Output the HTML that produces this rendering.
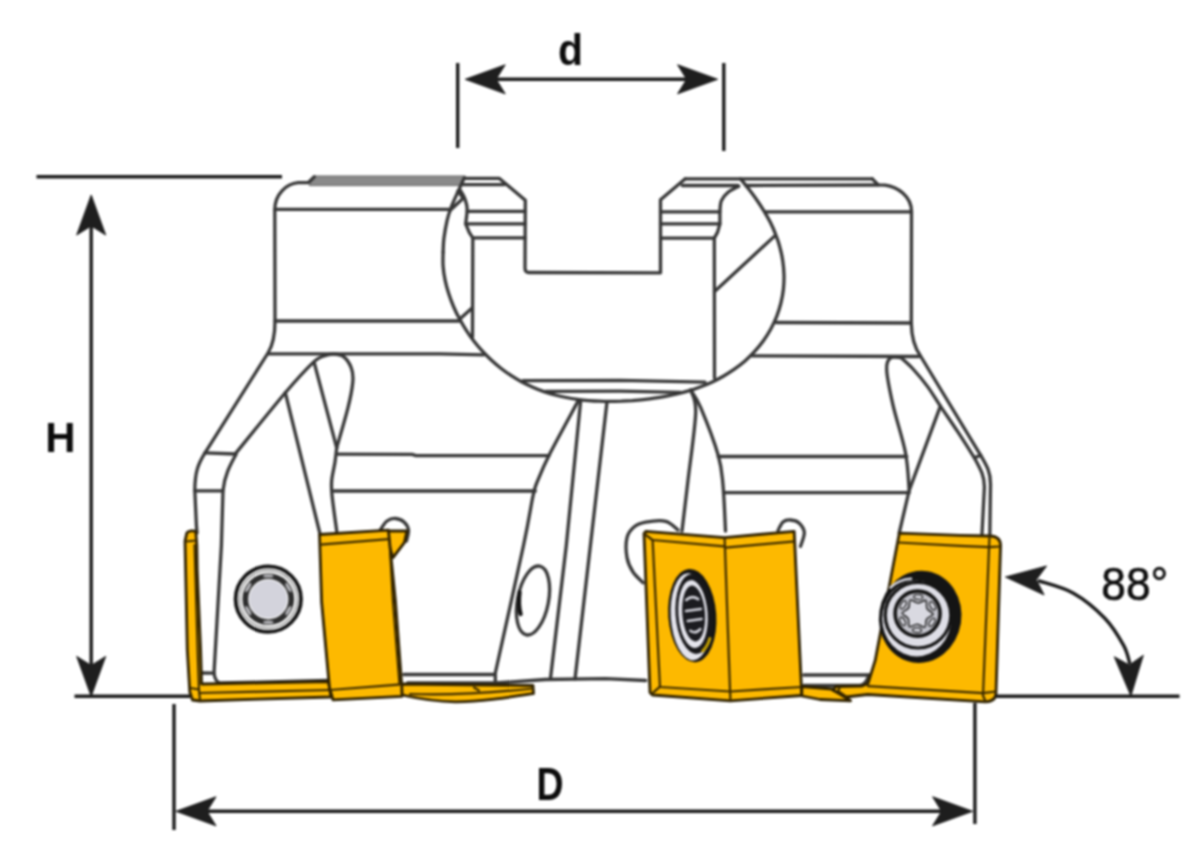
<!DOCTYPE html>
<html lang="en">
<head>
<meta charset="utf-8">
<title>Face mill dimensions</title>
<style>
html,body{margin:0;padding:0;background:#fff;}
body{width:1198px;height:866px;overflow:hidden;}
svg{display:block;}
.b{fill:none;stroke:#363636;stroke-width:3.3;stroke-linecap:round;stroke-linejoin:round;}
.y path{fill:#fdb900;stroke:#2e2100;stroke-width:2.8;stroke-linejoin:round;stroke-linecap:round;}
.y path.n{fill:none;stroke-width:2.2;stroke:#3a2a00;}
.d{fill:none;stroke:#1a1a1a;stroke-width:3.4;stroke-linecap:butt;}
.a path{fill:#1e1e1e;stroke:#1e1e1e;stroke-width:1;stroke-linejoin:round;}
.t{font-family:"Liberation Sans",sans-serif;font-weight:bold;font-size:43px;fill:#0c0c0c;}
.r{font-family:"Liberation Sans",sans-serif;font-weight:normal;font-size:46px;fill:#0c0c0c;stroke:#0c0c0c;stroke-width:0.6px;stroke-linejoin:round;}
</style>
</head>
<body>
<svg width="1198" height="866" viewBox="0 0 1198 866">
<defs><filter id="bl" color-interpolation-filters="sRGB" x="0" y="0" width="1198" height="866" filterUnits="userSpaceOnUse"><feGaussianBlur stdDeviation="0.8"/></filter></defs>
<rect width="1198" height="866" fill="#fff"/>
<g filter="url(#bl)">
<rect width="1198" height="866" fill="#fff"/>
<g class="b">
<path d="M314.5,176 L465.5,176 L461.5,185.6 L309.5,185.6Z" fill="#8a8a8a" stroke="#666" stroke-width="1"/>
<path d="M464.2,178 C463.2,180.2 460.4,186.3 458.2,191.2 C456,196.1 453,202.3 451.2,207.2 C449.4,212 448.3,215.1 447.1,220.3 C445.9,225.5 444.6,233.1 443.9,238.4 C443.2,243.7 443.2,249.8 443.1,252.1"/>
<path d="M443.1,252.1 C443.1,254.4 442.7,261.5 443.1,266.2 C443.4,270.8 444.1,275.5 445.1,280.1 C446,284.7 447.3,289.2 448.7,293.6 C450.1,298 451.7,302.3 453.5,306.5 C455.3,310.8 457.3,314.9 459.5,318.8 C461.6,322.8 463.9,326.7 466.3,330.4 C468.7,334.2 471.3,337.8 474,341.2 C476.7,344.7 479.5,348 482.4,351.2 C485.3,354.4 488.4,357.4 491.5,360.3 C494.6,363.2 497.8,365.9 501.2,368.5 C504.5,371.1 507.9,373.5 511.3,375.7 C514.8,378 518.3,380.1 521.9,382 C525.5,383.9 529.2,385.6 532.8,387.2 C536.5,388.8 540.2,390.3 543.9,391.6 C547.6,392.8 551.4,394 555.1,395 C558.8,396 562.6,396.8 566.3,397.5 C570.1,398.3 573.8,398.9 577.5,399.4 C581.2,399.9 584.9,400.3 588.6,400.6 C592.3,400.9 595.9,401.1 599.6,401.2 C603.2,401.4 606.8,401.4 610.5,401.4 C614.1,401.4 617.7,401.3 621.3,401.2 C625,401 628.6,400.8 632.2,400.6 C635.9,400.3 639.5,400 643.2,399.6 C646.9,399.2 650.5,398.8 654.3,398.2 C658,397.7 661.7,397.1 665.5,396.4 C669.3,395.7 673.1,394.9 676.9,394 C680.7,393.1 684.6,392.1 688.5,390.9 C692.4,389.8 696.3,388.5 700.1,387 C704,385.6 707.9,384 711.8,382.2 C715.7,380.4 719.5,378.4 723.3,376.2 C727.1,374.1 730.8,371.7 734.4,369.2 C738,366.6 741.6,363.8 745,360.9 C748.4,357.9 751.7,354.7 754.7,351.4 C757.8,348 760.7,344.4 763.4,340.7 C766.1,337 768.6,333 770.8,329 C773,324.9 775,320.7 776.7,316.3 C778.4,312 779.8,307.5 780.9,303 C782,298.5 782.9,293.8 783.4,289.2 C783.9,284.6 784.1,279.9 784,275.2 C783.9,270.6 783.5,265.9 782.8,261.3 C782.2,256.7 781.2,252.1 780,247.7 C778.9,243.2 777.4,238.8 775.7,234.6 C774.1,230.3 772.2,226.1 770.2,222.1 C768.1,218 765.9,214.1 763.6,210.3 C761.3,206.5 758.8,202.8 756.3,199.2 C753.8,195.6 751.1,192.1 748.5,188.7 C745.8,185.3 741.7,180.3 740.4,178.7"/>
<path d="M314.3,176.8 L308.5,182.5 L298.2,182.7 C286,184 275,194 274.8,209.4 L275,321 C275,334 273,345 268,353 L205,452.8"/>
<path d="M275,209.4 L449.5,209.4"/>
<path d="M275,321 L459,321"/>
<path d="M267.8,353.8 L440,353.8 L483.6,354.8"/>
<path d="M872.3,178.8 L878.3,184.8 L885,185.1 C897,186.5 911.5,196 911.5,211.5 L911.3,323 C911.5,336 914,347 920.5,356 L980.7,455.3 C987,466 990.5,472 990.5,484 L989.8,536"/>
<path d="M765.7,211.8 L911.5,211.8"/>
<path d="M776.3,322.5 L911.3,323"/>
<path d="M752.2,355.9 L919,356.5"/>
<path d="M685.3,178.8 L740,178.8 L872.3,178.8"/>
<path d="M682.3,185.5 L738,185.5"/>
<path d="M746,185.5 L878.3,185"/>
<path d="M464.2,178.4 L499.4,178.4 L525.3,200.2 L525,268 Q525,272.5 529,272.5 L660.5,272.8 L660.5,199.8 L685.3,178.8"/>
<path d="M462,184.6 L504.4,184.6"/>
<path d="M467.2,211.3 L525.2,211.3"/>
<path d="M465.7,223.8 L525.2,223.8"/>
<path d="M472.8,237.9 L525.2,237.9"/>
<path d="M460.2,190.2 C460.9,191.4 463.1,194.7 464.2,197.2 C465.3,199.7 466.2,202.8 466.7,205.2 C467.2,207.5 467.1,210.3 467.2,211.3 L465.7,223.8 L469.2,232.4 L472.8,237.9 L472.5,337"/>
<path d="M458,191 L463.2,198.2 L450.2,210.3"/>
<path d="M459.3,319.5 L471.8,308.3"/>
<path d="M660.5,211.8 L719.9,211.8"/>
<path d="M660.5,223.9 L719.9,223.9"/>
<path d="M660.5,238.1 L713.9,238.1"/>
<path d="M738.7,186.3 C736.9,187.3 731,189.9 728.1,192.3 C725.2,194.7 722.8,197.3 721.4,200.6 C720,203.8 720.1,209.9 719.9,211.8 L719.9,223.9 L717.6,232.1 L714.3,238.1 L714.5,378.1"/>
<path d="M714.6,291.5 L774,236.6"/>
<path d="M523,380.6 L620,380.4 L705,382.2"/>
<path d="M545.5,391.3 L620,391.2 L680.5,392.4"/>
<path d="M205,452.8 C198,464 195,472 194.8,490 L196.4,525.5 L197,533"/>
<path d="M205,452.8 L235.2,454"/>
<path d="M235.2,454 C243.5,443.8 272.3,407.9 285.3,392.7 C298.3,377.5 306.6,368.7 313,362.6 C319.4,356.5 320.6,357.4 324,356 C327.4,354.6 330.2,353.9 333.5,354 C336.8,354.1 340.5,354.3 343.5,356.6 C346.5,358.9 349.8,363.8 351.3,368 C352.9,372.2 353.4,375.4 352.8,382 C352.2,388.6 350.7,396.7 348,407.7 C345.3,418.7 338.6,441.1 336.7,447.8"/>
<path d="M236,454.5 C229.5,466 224.5,476 223,490.4 L221.4,545.5 L214,673"/>
<path d="M194.8,490.8 L222.9,490.8"/>
<path d="M285.3,392.7 L320.4,535.5"/>
<path d="M314.2,362.6 L336.7,447.8"/>
<path d="M336.7,447.8 C336.4,450.2 335.8,456.6 335,462 C334.2,467.4 332.2,474.9 331.7,480.4 C331.2,485.9 331.2,486.6 332,495 C332.8,503.4 335.9,525 336.7,531"/>
<path d="M336.7,454.2 L412,454.4 L416,455.6 L549,455.6"/>
<path d="M334,491 L535.3,491"/>
<path d="M577.9,401.4 C573.3,410 557,439.6 550.3,452.8 C543.6,466 540.7,473.2 537.8,480.4 C534.9,487.6 535.4,485.1 533,496 C530.6,506.9 529.8,516 523.5,545.5 C517.2,575 500,651.8 495.3,673"/>
<path d="M580.6,401.4 L566.3,545.5 L550.4,679"/>
<path d="M606.9,402.7 L590.4,545.5 L575,679"/>
<path d="M690.7,390 C691.5,393.8 696.2,397.6 695.7,412.7 C695.2,427.8 690.3,460.7 688,480.4 C685.7,500.1 683,522.6 682,531"/>
<path d="M690.7,390 C692.4,392.9 696.1,396.8 700.7,407.7 C705.3,418.6 714.5,442.4 718.2,455.3 C721.9,468.2 721.8,472.4 723,485 C724.2,497.6 725.1,523.3 725.5,531"/>
<path d="M718.2,456.5 L906.7,456.5"/>
<path d="M723.5,492.7 L909.2,492.7"/>
<path d="M900.5,357.6 C898.8,357.7 892.7,355.9 890.4,358 C888.1,360.1 886.3,362.1 886.7,370 C887.1,377.9 889.9,391.4 893,405.2 C896.1,419 902.8,438.6 905.5,452.8 C908.2,467 908.6,484.1 909.2,490.4"/>
<path d="M940.4,406.1 L909.2,490.4 L899.2,533"/>
<path d="M900.6,357.3 C902.6,359.2 908.1,363.6 912.6,368.5 C917.1,373.4 923,380.3 927.6,386.6 C932.2,392.9 935.4,398.6 940.4,406.1 C945.4,413.6 952,423.1 957.7,431.7 C963.4,440.3 971.6,453.4 974.4,457.8 C981,470 984.4,476 984.4,487 L982,534"/>
<path d="M974.4,457.8 L980.7,455.3"/>
<path d="M201.4,673 L214,673.2 C214.5,678 216.5,682 220,683 L328,680.5"/>
<path d="M403.8,674.5 L495.3,674.5 L495.3,683"/>
<path d="M407.6,683 L495.3,683 L545.4,679.5 L605.6,678.6 L645.7,680.5"/>
<path d="M803.8,675 L869,675"/>
<path d="M803.8,685.5 L860,685.5 C865,685 867,681 869,675"/>
<ellipse cx="533" cy="600.5" rx="15.5" ry="35" transform="rotate(11 533 600.5)"/>
<path d="M519.6,592 C518.6,600 518.8,608 520.6,614" stroke="#111" stroke-width="4.2"/>
</g>
<g class="b">
<path d="M380.5,529.5 C381.6,528.1 384.5,522.8 387,521 C389.5,519.2 392.8,518.3 395.6,518.5 C398.4,518.7 401.9,520.1 404,522 C406.1,523.9 408.1,526.8 408.5,530 C408.9,533.2 406.8,539.2 406.5,541"/>
<path d="M643,582.7 C641.3,580.9 635.7,576.2 633,572 C630.3,567.8 628,563.3 627,557.6 C626,551.9 625.8,542.7 627,537.6 C628.2,532.5 630.9,529.6 634,527 C637.1,524.4 640.4,523.2 645.7,522.2 C651,521.2 660.3,520 665.7,521.3 C671.1,522.6 676,528.5 678,530"/>
<path d="M778,530.5 C778.8,529.1 780.9,523.8 783,522 C785.1,520.2 787.8,519.8 790.5,520 C793.2,520.2 796.7,520.9 799,523 C801.3,525.1 804,528.7 804.3,532.6 C804.5,536.5 801.1,544.1 800.5,546.4"/>
</g>
<g class="y">
<path d="M186.8,533 C188,530.8 194,530 195.8,531.8 L196.8,545 L197.2,570 L200.6,650 L201.6,684 L328.5,681.5 L331,697 L200,701 L192.5,700 L189.8,692 L187.3,650 L185,541Z"/>
<path class="n" d="M185.5,541.5 L196.8,540.5"/>
<path class="n" d="M194.6,545 L197.6,650 L199,690 L200,700"/>
<path class="n" d="M190.5,688 L199,689.5"/>
<path class="n" d="M199.5,693 L330,690"/>
<path d="M401,684 L533,685.5 L533.5,693.5 C505,698 480,702 455,701.8 C435,701.5 420,699 402,695Z"/>
<path class="n" d="M410,694 C450,695.5 500,692 533,688.5"/>
<path class="n" d="M474,687.5 L479,690.5" stroke-width="2.5"/>
<path d="M388,531 L406.9,531 L404.4,542.6 L393,557.6 L389,545Z"/>
<path d="M319.5,534.5 L388.4,530.2 L395.5,602 L401.8,686 L402,696.3 L333,699.8 L329.5,688 L321.6,602Z"/>
<path class="n" d="M320.2,544.6 L388.6,539.1"/>
<path class="n" d="M330,690 L401.5,684.3"/>
<path class="n" d="M389.5,540 L393,602 L399.5,684"/>
<path d="M646,531.3 L724.6,537.6 L794.2,531.3 L801.8,695.5 L730.4,700.8 L652.5,695 L650,692.5 L644,533.5Z"/>
<path class="n" d="M724.6,537.6 L730.4,700.5"/>
<path class="n" d="M644.5,534 L652.6,540 L724,546.4"/>
<path class="n" d="M652.6,540 L660,687 L730,691.5"/>
<path class="n" d="M651.4,694.2 L660,686.7"/>
<path class="n" d="M725.3,547.6 L795,541.4"/>
<path class="n" d="M730.4,691.5 L801.8,687"/>
<path d="M801.8,686.5 L832,689 L850.6,700.8 L820,699.5 L801.8,696Z"/>
<path d="M899.3,533.2 L960,535.3 L990,536 C996,536.2 1000.3,539 1000.6,545 L996,693 C996,698 993,701.5 985.5,701.8 L867.7,694.5 L846,697 L832.6,690 L836,686.5 L862,686 L868,683.5 L875.2,660.4Z"/>
<path class="n" d="M898,542.5 L960,545.9 L989.5,547.2 L1000,546.5"/>
<path class="n" d="M989.5,536.5 L983,695.5 L985.5,701.5"/>
<path class="n" d="M868,686.2 L983,693.2 L996,691.5"/>
<path class="n" d="M846,696.5 L838,691 L840,687"/>
</g>
<g>
<circle cx="268.3" cy="599.1" r="32.7" fill="#fff" stroke="#141414" stroke-width="3.8"/>
<circle cx="268.3" cy="599.1" r="28.7" fill="none" stroke="#777" stroke-width="1.2"/>
<circle cx="268.3" cy="599.1" r="23" fill="none" stroke="#2e2e2e" stroke-width="5.8"/>
<ellipse cx="268.3" cy="622.3" rx="5.2" ry="1.7" transform="rotate(180 268.3 622.3)" fill="#b4b4b8"/>
<ellipse cx="248.2" cy="610.7" rx="5.2" ry="1.7" transform="rotate(240 248.2 610.7)" fill="#b4b4b8"/>
<ellipse cx="248.2" cy="587.5" rx="5.2" ry="1.7" transform="rotate(300 248.2 587.5)" fill="#b4b4b8"/>
<ellipse cx="268.3" cy="575.9" rx="5.2" ry="1.7" transform="rotate(360 268.3 575.9)" fill="#b4b4b8"/>
<ellipse cx="288.4" cy="587.5" rx="5.2" ry="1.7" transform="rotate(420 288.4 587.5)" fill="#b4b4b8"/>
<ellipse cx="288.4" cy="610.7" rx="5.2" ry="1.7" transform="rotate(480 288.4 610.7)" fill="#b4b4b8"/>
<circle cx="268.3" cy="599.1" r="19" fill="#d3d3dc"/>
</g>
<g transform="translate(692.3 615.6) rotate(-4)">
<ellipse cx="0" cy="0" rx="24" ry="46.8" fill="#141414"/>
<ellipse cx="-1.6" cy="1" rx="20" ry="43.6" fill="#e4e4ec"/>
<ellipse cx="2" cy="-1.5" rx="18.6" ry="40" fill="#17171a"/>
<ellipse cx="0.8" cy="-1.5" rx="14.6" ry="34" fill="#e4e4ec"/>
<ellipse cx="1.5" cy="-2" rx="11.4" ry="28" fill="#1c1c20"/>
<path d="M-5,-16 Q1,-21 7,-16 M-6,-5 L9,-6 M-5,5 L9,4 M-3,15 Q2,19 7,14" stroke="#d4d4dc" stroke-width="2.6" fill="none" stroke-linecap="round"/>
<path d="M8,36 Q13,32 16,24" stroke="#c9a400" stroke-width="3" fill="none" stroke-linecap="round"/>
</g>
<g>
<ellipse cx="920.2" cy="616.9" rx="41.2" ry="46.2" transform="rotate(9 920.2 616.9)" fill="#141414"/>
<ellipse cx="916.7" cy="618.6" rx="34.5" ry="37.8" fill="#e0e0e8"/>
<path d="M890.5,587.5 Q899,579.5 911,578.8" fill="none" stroke="#d8d8e0" stroke-width="2.6" stroke-linecap="round"/>
<circle cx="918.0" cy="615.2" r="32.8" fill="#dedee6" stroke="#141414" stroke-width="3.2"/>
<circle cx="917.6" cy="613.6" r="22.5" fill="#c2c2ca" stroke="#141414" stroke-width="3.6"/>
<ellipse cx="918.2" cy="597.0" rx="4.4" ry="2.3" transform="rotate(2 918.2 597.0)" fill="#dcdce4" stroke="#262626" stroke-width="1.3"/>
<ellipse cx="932.6" cy="605.8" rx="4.4" ry="2.3" transform="rotate(62 932.6 605.8)" fill="#dcdce4" stroke="#262626" stroke-width="1.3"/>
<ellipse cx="932.0" cy="622.4" rx="4.4" ry="2.3" transform="rotate(122 932.0 622.4)" fill="#dcdce4" stroke="#262626" stroke-width="1.3"/>
<ellipse cx="917.0" cy="630.2" rx="4.4" ry="2.3" transform="rotate(182 917.0 630.2)" fill="#dcdce4" stroke="#262626" stroke-width="1.3"/>
<ellipse cx="902.6" cy="621.4" rx="4.4" ry="2.3" transform="rotate(242 902.6 621.4)" fill="#dcdce4" stroke="#262626" stroke-width="1.3"/>
<ellipse cx="903.2" cy="604.8" rx="4.4" ry="2.3" transform="rotate(302 903.2 604.8)" fill="#dcdce4" stroke="#262626" stroke-width="1.3"/>
<path d="M925.8,600.5 C927.3,601.5 925.8,606.4 927,608.6 C928.2,610.9 933.1,612.4 933,614.1 C932.9,615.9 927.9,617 926.6,619.2 C925.2,621.4 926.4,626.4 924.8,627.2 C923.3,628 919.8,624.3 917.2,624.2 C914.7,624.1 910.9,627.6 909.4,626.7 C907.9,625.7 909.4,620.8 908.2,618.6 C907,616.3 902.1,614.8 902.2,613.1 C902.3,611.3 907.3,610.2 908.6,608 C910,605.8 908.8,600.8 910.4,600 C911.9,599.2 915.4,602.9 918,603 C920.5,603.1 924.3,599.6 925.8,600.5Z" fill="#d9d9e1" stroke="#2a2a2a" stroke-width="1.6"/>
</g>
<g class="d">
<path d="M457.7,63 V148"/>
<path d="M723.8,63 V151"/>
<path d="M490,79.3 H692"/>
<path d="M36.5,176.7 H282"/>
<path d="M91.2,225 V670"/>
<path d="M74.5,696.2 H190"/>
<path d="M995,696.2 H1179.5"/>
<path d="M174,704 V830"/>
<path d="M974.9,703 V824"/>
<path d="M205,811.3 H945"/>
<path d="M1037.9,580.6 C1043.8,582.7 1062.2,586.9 1073.4,593.2 C1084.6,599.5 1096.4,609.5 1104.8,618.2 C1113.2,626.9 1119.4,637.8 1123.6,645.4 C1127.8,653 1128.9,660.9 1129.9,664"/>
</g>
<g class="a">
<path d="M465.2,79.3 L505.2,64.8 L496.2,79.3 L505.2,93.8Z"/>
<path d="M717.6,79.3 L677.6,93.8 L686.6,79.3 L677.6,64.8Z"/>
<path d="M91.2,195 L105.7,235 L91.2,226 L76.7,235Z"/>
<path d="M91.2,696.4 L76.7,656.4 L91.2,665.4 L105.7,656.4Z"/>
<path d="M176,811.3 L216,796.8 L207,811.3 L216,825.8Z"/>
<path d="M972.6,811.3 L932.6,825.8 L941.6,811.3 L932.6,796.8Z"/>
<path d="M1005.5,577 L1046.6,566 L1036.4,579.7 L1044.1,594.9Z"/>
<path d="M1130.9,696 L1114.3,656.8 L1129.3,665 L1143.3,655.3Z"/>
</g>
<text class="t" style="font-size:44px" x="557.9" y="64.8" textLength="25" lengthAdjust="spacingAndGlyphs">d</text>
<text class="t" style="font-size:42px" x="45.2" y="452.2">H</text>
<text class="t" style="font-size:47px" x="536.4" y="800.3" textLength="27.1" lengthAdjust="spacingAndGlyphs">D</text>
<text class="r" x="1101.3" y="600.4" textLength="67" lengthAdjust="spacingAndGlyphs">88°</text>
</g>
</svg>
</body>
</html>
